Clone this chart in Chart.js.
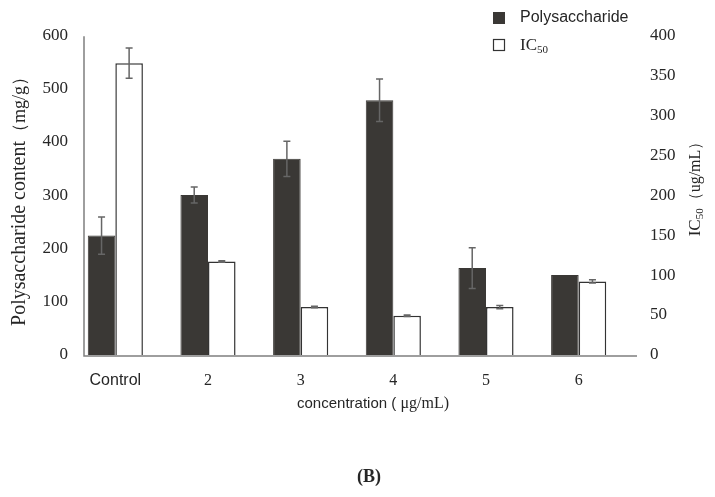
<!DOCTYPE html>
<html>
<head>
<meta charset="utf-8">
<script src="https://cdn.jsdelivr.net/npm/chart.js@4.4.1/dist/chart.umd.min.js"></script>
<style>
  html, body { margin: 0; padding: 0; background: #fff; }
  #wrap { width: 715px; height: 497px; position: relative; }
</style>
</head>
<body>
<div id="wrap"><canvas id="c" width="715" height="497"></canvas></div>
<script>
// ---- data ----
const categories = ["Control", "2", "3", "4", "5", "6"];
const polysaccharide = [224, 300, 368, 478, 163, 150];
const polysaccharideErr = [35, 15, 33, 40, 38, 0];
const ic50 = [365, 117, 60, 49, 60, 92];
const ic50Err = [19, 1, 1, 1, 2, 2];
const leftTicks = [0, 100, 200, 300, 400, 500, 600];
const rightTicks = [0, 50, 100, 150, 200, 250, 300, 350, 400];

const SERIF = "'Liberation Serif', 'DejaVu Serif', serif";
const SANS = "'Liberation Sans', 'DejaVu Sans', sans-serif";
const TEXT = "#262626";
const AXIS = "#7f7f7f";
const AXIS_INSET = 15;

const errorBars = {
  id: 'errorBars',
  afterDatasetsDraw(chart) {
    const ctx = chart.ctx;
    const errs = [polysaccharideErr, ic50Err];
    chart.data.datasets.forEach((ds, i) => {
      const meta = chart.getDatasetMeta(i);
      const scale = chart.scales[meta.yAxisID];
      meta.data.forEach((el, j) => {
        const v = ds.data[j], e = errs[i][j];
        if (!e) return;
        const yT = scale.getPixelForValue(v + e);
        const yB = scale.getPixelForValue(v - e);
        ctx.save();
        ctx.strokeStyle = '#666';
        ctx.lineWidth = 1.5;
        ctx.beginPath();
        ctx.moveTo(el.x, yT); ctx.lineTo(el.x, yB);
        ctx.moveTo(el.x - 3.5, yT); ctx.lineTo(el.x + 3.5, yT);
        ctx.moveTo(el.x - 3.5, yB); ctx.lineTo(el.x + 3.5, yB);
        ctx.stroke();
        ctx.restore();
      });
    });
  }
};

function drawSub(ctx, parts, x, y) {
  let cx = x;
  parts.forEach(([t, f, dy]) => {
    ctx.font = f;
    ctx.fillText(t, cx, y + dy);
    cx += ctx.measureText(t).width;
  });
  return cx - x;
}
function measureParts(ctx, parts) {
  let w = 0;
  parts.forEach(([t, f]) => { ctx.font = f; w += ctx.measureText(t).width; });
  return w;
}

const decor = {
  id: 'decor',
  afterDraw(chart) {
    const ctx = chart.ctx;
    const a = chart.chartArea;
    ctx.save();
    // axis lines
    ctx.strokeStyle = AXIS;
    ctx.lineWidth = 1.5;
    ctx.beginPath();
    const ax = a.left + AXIS_INSET;
    ctx.moveTo(ax, a.top + 1);
    ctx.lineTo(ax, a.bottom + 1);
    ctx.lineTo(a.right + 12, a.bottom + 1);
    ctx.stroke();

    ctx.fillStyle = TEXT;
    ctx.textBaseline = 'middle';

    // legend
    const ds = chart.data.datasets;
    const lx = a.right - 132, ly1 = 18, ly2 = 46;
    ctx.fillStyle = ds[0].backgroundColor;
    ctx.fillRect(lx, ly1 - 6, 12, 12);
    ctx.strokeStyle = '#333';
    ctx.lineWidth = 1.2;
    ctx.fillStyle = '#fff';
    ctx.fillRect(lx + 0.5, ly2 - 6.5, 11, 11);
    ctx.strokeRect(lx + 0.5, ly2 - 6.5, 11, 11);
    ctx.fillStyle = TEXT;
    ctx.textAlign = 'left';
    ctx.font = '16px ' + SANS;
    ctx.fillText(ds[0].label, lx + 27, ly1);
    drawSub(ctx, [["IC", '17px ' + SERIF, 0], ["50", '11px ' + SERIF, 4]], lx + 27, ly2);

    // x title
    const xParts = [["concentration ( ", '15px ' + SANS, 0], ["μg/mL)", '16px ' + SERIF, 0]];
    const xw = measureParts(ctx, xParts);
    drawSub(ctx, xParts, (a.left + a.right) / 2 + 26 - xw / 2, 404);

    // left title
    ctx.save();
    ctx.translate(20, 197);
    ctx.rotate(-Math.PI / 2);
    ctx.textAlign = 'left';
    const lParts = [["Polysaccharide content", '20px ' + SERIF, 0], ["（mg/g）", '18px ' + SERIF, 0]];
    const lw = measureParts(ctx, lParts);
    drawSub(ctx, lParts, -lw / 2, 0);
    ctx.restore();

    // right title
    ctx.save();
    ctx.translate(696, 185);
    ctx.rotate(-Math.PI / 2);
    const rParts = [["IC", '17px ' + SERIF, 0], ["50", '11px ' + SERIF, 4], ["（ug/mL）", '16px ' + SERIF, 0]];
    const rw = measureParts(ctx, rParts);
    drawSub(ctx, rParts, -rw / 2, 0);
    ctx.restore();

    // panel label
    ctx.textAlign = 'center';
    ctx.font = 'bold 18px ' + SERIF;
    ctx.fillText("(B)", 369, 477);
    ctx.restore();
  }
};

new Chart(document.getElementById('c'), {
  type: 'bar',
  data: {
    labels: categories,
    datasets: [
      { label: 'Polysaccharide', data: polysaccharide, yAxisID: 'y',
        backgroundColor: '#3a3835', borderColor: '#3a3835', borderWidth: 1 },
      { label: 'IC50', data: ic50, yAxisID: 'y1',
        backgroundColor: '#ffffff', borderColor: '#333333', borderWidth: 1.5 }
    ]
  },
  options: {
    responsive: false,
    animation: false,
    devicePixelRatio: 1,
    layout: { padding: { top: 31, left: 0, right: 0, bottom: 0 } },
    plugins: { legend: { display: false }, tooltip: { enabled: false } },
    datasets: { bar: { categoryPercentage: 0.595, barPercentage: 1.0 } },
    scales: {
      x: {
        grid: { display: false, drawTicks: false },
        border: { display: false },
        ticks: {
          padding: 16,
          color: TEXT,
          font: (ctx) => ctx.index === 0 ? { family: SANS, size: 16 } : { family: SERIF, size: 16 }
        },
        afterFit: (s) => { s.height = 142; }
      },
      y: {
        position: 'left',
        min: 0, max: 600,
        afterBuildTicks: (s) => { s.ticks = leftTicks.map(v => ({ value: v })); },
        grid: { display: false, drawTicks: false },
        border: { display: false },
        ticks: { padding: 1, color: TEXT, font: { family: SERIF, size: 17 } },
        afterFit: (s) => { s.width = 69; }
      },
      y1: {
        position: 'right',
        min: 0, max: 400,
        afterBuildTicks: (s) => { s.ticks = rightTicks.map(v => ({ value: v })); },
        grid: { display: false, drawTicks: false },
        border: { display: false },
        ticks: { padding: 25, color: TEXT, font: { family: SERIF, size: 17 } },
        afterFit: (s) => { s.width = 90; }
      }
    }
  },
  plugins: [errorBars, decor]
});
</script>
</body>
</html>
